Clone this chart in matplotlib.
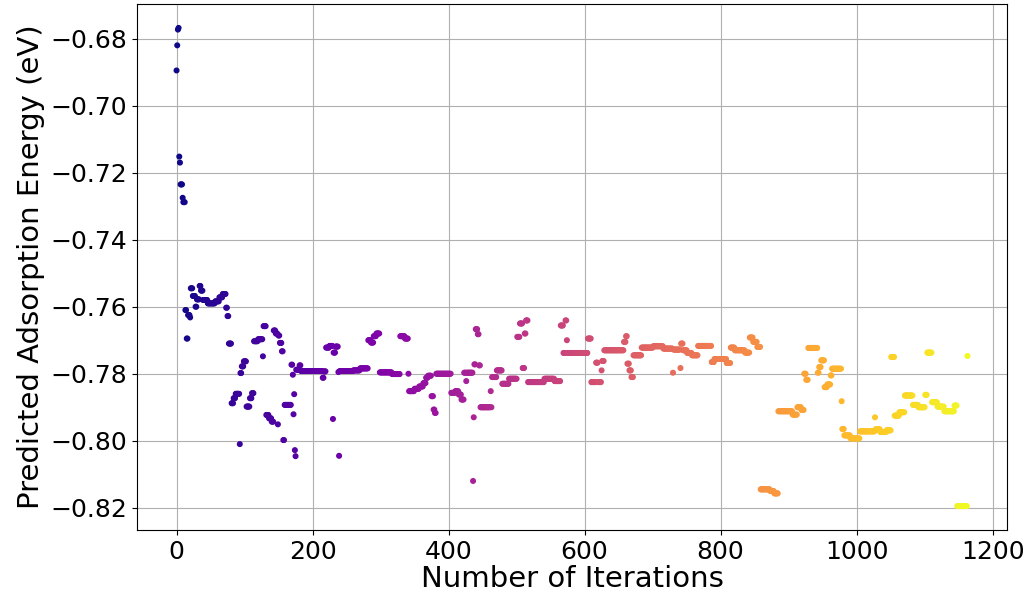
import numpy as np
import matplotlib
matplotlib.use('Agg')
import matplotlib.pyplot as plt

# Predicted adsorption energy of the best candidate, stored as runs:
# each run starts at run_start[i] and holds run_energy[i] until the next run.
run_start = [
    0, 1, 2, 3, 4, 5, 6, 9, 10, 13, 15, 17, 20, 21, 24, 28, 30, 34, 36, 39,
    46, 57, 63, 68, 73, 75, 77, 81, 84, 87, 93, 94, 96, 99, 103, 108, 111, 114, 120, 127,
    128, 132, 136, 140, 143, 146, 149, 150, 152, 155, 157, 159, 169, 171, 172, 173, 174, 175, 176, 181,
    183, 215, 217, 220, 225, 230, 231, 234, 238, 239, 240, 260, 270, 282, 286, 290, 294, 299, 317, 329,
    336, 341, 342, 350, 357, 363, 367, 370, 375, 378, 380, 382, 404, 410, 415, 419, 423, 426, 427, 436,
    437, 438, 440, 443, 445, 447, 462, 463, 464, 471, 479, 489, 501, 505, 509, 512, 514, 517, 541, 556,
    565, 569, 572, 574, 575, 605, 610, 617, 620, 625, 626, 629, 658, 661, 663, 666, 669, 672, 684, 701,
    716, 730, 731, 741, 742, 745, 751, 758, 767, 787, 791, 809, 815, 821, 836, 843, 848, 854, 859, 873,
    879, 885, 906, 913, 919, 923, 926, 929, 943, 945, 948, 953, 957, 962, 964, 978, 979, 982, 991, 1005,
    1027, 1028, 1035, 1044, 1051, 1056, 1063, 1071, 1083, 1091, 1101, 1104, 1111, 1119, 1129, 1144, 1148, 1163,
]
run_energy = [
    -0.6895, -0.6820, -0.6773, -0.6768, -0.7152, -0.7170, -0.7235, -0.7275, -0.7288, -0.7610,
    -0.7695, -0.7625, -0.7632, -0.7545, -0.7568, -0.7600, -0.7578, -0.7538, -0.7552, -0.7580,
    -0.7590, -0.7584, -0.7572, -0.7562, -0.7603, -0.7628, -0.7710, -0.7888, -0.7873, -0.7860,
    -0.8010, -0.7798, -0.7778, -0.7763, -0.7898, -0.7873, -0.7858, -0.7703, -0.7697, -0.7748,
    -0.7658, -0.7923, -0.7933, -0.7943, -0.7671, -0.7680, -0.7951, -0.7686, -0.7708, -0.7733,
    -0.7998, -0.7893, -0.7773, -0.7803, -0.7921, -0.7861, -0.8028, -0.8046, -0.7788, -0.7775,
    -0.7792, -0.7812, -0.7793, -0.7722, -0.7717, -0.7935, -0.7737, -0.7719, -0.7795, -0.8045,
    -0.7792, -0.7790, -0.7784, -0.7700, -0.7707, -0.7688, -0.7680, -0.7796, -0.7801, -0.7688,
    -0.7695, -0.7800, -0.7852, -0.7845, -0.7838, -0.7828, -0.7812, -0.7806, -0.7867, -0.7907,
    -0.7917, -0.7800, -0.7857, -0.7852, -0.7862, -0.7877, -0.7797, -0.7822, -0.7797, -0.8120,
    -0.7930, -0.7772, -0.7667, -0.7682, -0.7775, -0.7900, -0.7852, -0.7900, -0.7810, -0.7790,
    -0.7830, -0.7815, -0.7690, -0.7650, -0.7783, -0.7680, -0.7641, -0.7825, -0.7815, -0.7822,
    -0.7656, -0.7738, -0.7641, -0.7700, -0.7738, -0.7695, -0.7825, -0.7767, -0.7825, -0.7790,
    -0.7762, -0.7730, -0.7705, -0.7688, -0.7770, -0.7790, -0.7810, -0.7745, -0.7722, -0.7718,
    -0.7725, -0.7797, -0.7728, -0.7783, -0.7710, -0.7730, -0.7738, -0.7745, -0.7717, -0.7765,
    -0.7756, -0.7768, -0.7722, -0.7730, -0.7737, -0.7692, -0.7705, -0.7720, -0.8145, -0.8150,
    -0.8157, -0.7912, -0.7922, -0.7900, -0.7908, -0.7800, -0.7818, -0.7723, -0.7797, -0.7780,
    -0.7760, -0.7840, -0.7832, -0.7805, -0.7785, -0.7882, -0.7965, -0.7984, -0.7993, -0.7972,
    -0.7930, -0.7966, -0.7974, -0.7969, -0.7750, -0.7925, -0.7915, -0.7865, -0.7893, -0.7900,
    -0.7863, -0.7737, -0.7885, -0.7898, -0.7912, -0.7895, -0.8195, -0.7747,
]
n_iter = 1164

run_len = np.diff(run_start + [n_iter])
energy = np.repeat(run_energy, run_len)
iteration = np.arange(n_iter)

fig = plt.figure(figsize=(10.28, 5.99), dpi=100)
ax = fig.add_axes([137 / 1028, 69 / 599, 870 / 1028, 526 / 599])

ax.scatter(iteration, energy, c=iteration, cmap='plasma', s=11)
ax.grid(True)
ax.set_axisbelow(True)

ax.set_xticks([0, 200, 400, 600, 800, 1000, 1200])
ax.set_yticks([-0.82, -0.80, -0.78, -0.76, -0.74, -0.72, -0.70, -0.68])
ax.tick_params(labelsize=18)
ax.set_xlabel('Number of Iterations', fontsize=21, labelpad=1)
ax.set_ylabel('Predicted Adsorption Energy (eV)', fontsize=21, labelpad=4)

fig.savefig('out.png', dpi=100)
